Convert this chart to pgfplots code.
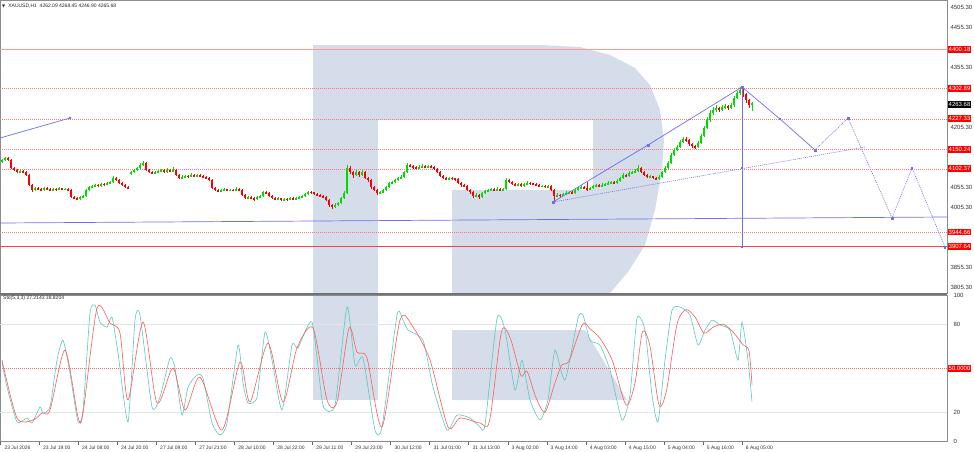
\documentclass[border=0pt]{standalone}
\usepackage{fontspec}
\setmainfont{Liberation Sans}
\newfontfamily\dejavu{DejaVu Sans}
\usepackage{pgfplots}
\pgfplotsset{compat=1.18}
\usepackage{pgfplotstable}
\definecolor{upc}{RGB}{0,220,0}
\definecolor{dnc}{RGB}{255,0,0}
\definecolor{bl}{RGB}{110,110,240}
\definecolor{logoc}{RGB}{212,221,233}
\definecolor{tealc}{RGB}{90,200,190}
\definecolor{sred}{RGB}{255,90,90}
\newcommand\tk{\fontsize{6}{6}\selectfont}
\newcommand\tks{\fontsize{5}{5}\selectfont}
\tikzset{lvl/.style={fill=red, text=white, font=\tk, inner xsep=1pt, inner ysep=1.3pt, anchor=west, xshift=0.5pt}}

\pgfplotstableread{
k o h l c
0 4120 4128 4117 4124.5
1 4124.5 4132 4122 4129.5
2 4129.5 4131 4121 4124.5
3 4124.5 4126 4101 4104.5
4 4104.5 4107 4096 4099.5
5 4099.5 4102 4091 4094.5
6 4094.5 4100 4092 4097
7 4097 4099 4091 4094.5
8 4094.5 4096 4084 4087
9 4087 4089 4059 4062
10 4062 4064 4045 4049.5
11 4049.5 4058 4047 4054.5
12 4054.5 4057 4049 4052
13 4052 4055 4046 4049.5
14 4049.5 4057 4047 4054.5
15 4054.5 4056 4049 4052
16 4052 4054 4046 4049.5
17 4049.5 4055 4047 4052
18 4052 4054 4048 4051
19 4051 4056 4049 4053
20 4053 4055 4049 4051.5
21 4051.5 4054 4049 4052
22 4052 4054 4046 4049.5
23 4049.5 4051 4029 4032
24 4032 4035 4026 4029.5
25 4029.5 4032 4024 4027
26 4027 4035 4025 4032
27 4032 4038 4030 4034.5
28 4034.5 4052 4032 4049.5
29 4049.5 4060 4047 4057
30 4057 4063 4055 4059.5
31 4059.5 4065 4057 4062
32 4062 4064 4057 4060
33 4060 4067 4058 4064.5
34 4064.5 4066 4060 4063
35 4063 4070 4061 4067
36 4067 4073 4065 4069.5
37 4069.5 4084 4067 4079.5
38 4079.5 4082 4072 4074.5
39 4074.5 4076 4064 4067
40 4067 4069 4059 4062
41 4062 4064 4054 4057
42 4057 4059 4052 4054.5
43 4090 4098 4088 4094.5
44 4094.5 4103 4092 4099.5
45 4099.5 4108 4097 4104.5
46 4104.5 4116 4102 4112
47 4112 4122 4109 4117
48 4117 4119 4096 4099.5
49 4099.5 4102 4091 4094.5
50 4094.5 4097 4089 4092
51 4092 4098 4090 4094.5
52 4094.5 4100 4092 4097
53 4097 4103 4095 4099.5
54 4099.5 4101 4092 4094.5
55 4094.5 4104 4092 4099.5
56 4099.5 4102 4094 4097
57 4097 4106 4095 4099.5
58 4099.5 4101 4084 4087
59 4087 4089 4076 4079.5
60 4079.5 4086 4077 4082
61 4082 4088 4080 4084.5
62 4084.5 4087 4080 4083
63 4083 4092 4081 4087
64 4087 4089 4082 4084.5
65 4084.5 4090 4082 4087
66 4087 4089 4081 4084.5
67 4084.5 4086 4079 4082
68 4082 4084 4077 4079.5
69 4079.5 4082 4071 4074.5
70 4074.5 4076 4051 4054.5
71 4054.5 4057 4046 4049.5
72 4049.5 4052 4044 4047
73 4047 4053 4045 4049.5
74 4049.5 4054 4047 4051
75 4051 4053 4046 4049
76 4049 4053 4047 4050
77 4050 4052 4047 4049.5
78 4049.5 4056 4048 4052
79 4052 4054 4046 4049.5
80 4049.5 4051 4034 4037
81 4037 4039 4026 4029.5
82 4029.5 4035 4027 4032
83 4032 4034 4026 4029.5
84 4029.5 4031 4022 4027
85 4027 4035 4025 4032
86 4032 4038 4030 4034.5
87 4034.5 4048 4032 4044.5
88 4044.5 4047 4039 4042
89 4042 4044 4031 4034.5
90 4034.5 4037 4026 4029.5
91 4029.5 4032 4024 4027
92 4027 4031 4024 4028
93 4028 4030 4021 4024.5
94 4024.5 4030 4022 4027
95 4027 4029 4023 4026
96 4026 4033 4024 4029.5
97 4029.5 4031 4024 4027
98 4027 4032 4025 4029.5
99 4029.5 4035 4027 4032
100 4032 4038 4030 4034.5
101 4034.5 4043 4032 4039.5
102 4039.5 4048 4037 4044.5
103 4044.5 4047 4040 4043
104 4043 4045 4037 4039.5
105 4039.5 4041 4034 4037
106 4037 4039 4032 4034.5
107 4034.5 4036 4029 4032
108 4032 4034 4021 4024.5
109 4024.5 4026 4008 4012
110 4012 4014 4003 4007
111 4007 4016 4004 4012
112 4012 4020 4009 4017
113 4017 4033 4015 4029.5
114 4029.5 4046 4027 4042
115 4042 4112 4039 4104.5
116 4104.5 4110 4090 4094.5
117 4094.5 4097 4080 4087
118 4087 4100 4084 4094.5
119 4094.5 4097 4083 4087
120 4087 4099 4085 4094.5
121 4094.5 4096 4076 4079.5
122 4079.5 4082 4070 4074.5
123 4074.5 4077 4053 4057
124 4057 4060 4046 4049.5
125 4049.5 4052 4038 4042
126 4042 4047 4039 4043
127 4043 4053 4041 4049.5
128 4049.5 4060 4047 4057
129 4057 4070 4055 4067
130 4067 4073 4064 4069.5
131 4069.5 4078 4067 4074.5
132 4074.5 4083 4072 4079.5
133 4079.5 4086 4077 4082
134 4082 4098 4080 4094.5
135 4094.5 4117 4092 4112
136 4112 4115 4106 4109.5
137 4109.5 4112 4103 4107
138 4107 4109 4101 4104.5
139 4104.5 4111 4102 4107
140 4107 4114 4105 4109.5
141 4109.5 4112 4104 4107
142 4107 4113 4105 4109.5
143 4109.5 4111 4104 4107
144 4107 4109 4099 4102
145 4102 4104 4091 4094.5
146 4094.5 4096 4081 4084.5
147 4084.5 4087 4076 4079.5
148 4079.5 4082 4074 4077
149 4077 4083 4075 4079.5
150 4079.5 4082 4075 4078
151 4078 4080 4073 4077
152 4077 4079 4064 4067
153 4067 4069 4058 4062
154 4062 4064 4056 4059.5
155 4059.5 4061 4046 4049.5
156 4049.5 4052 4040 4044.5
157 4044.5 4046 4029 4034.5
158 4034.5 4041 4031 4037
159 4037 4039 4027 4032
160 4032 4045 4030 4042
161 4042 4050 4040 4047
162 4047 4053 4045 4049.5
163 4049.5 4055 4047 4052
164 4052 4054 4046 4049.5
165 4049.5 4056 4047 4052
166 4052 4054 4046 4049.5
167 4049.5 4055 4047 4052
168 4052 4079 4050 4074.5
169 4074.5 4077 4066 4069.5
170 4069.5 4072 4061 4064.5
171 4064.5 4067 4059 4062
172 4062 4068 4060 4064.5
173 4064.5 4066 4056 4059.5
174 4059.5 4068 4057 4064.5
175 4064.5 4071 4062 4067
176 4067 4070 4063 4066
177 4066 4068 4061 4064.5
178 4064.5 4066 4059 4062
179 4062 4064 4056 4059.5
180 4059.5 4063 4057 4060
181 4060 4062 4054 4057
182 4057 4063 4055 4059.5
183 4059.5 4061 4046 4049.5
184 4049.5 4051 4019.5 4034.5
185 4034.5 4041 4031 4037
186 4037 4040 4033 4036
187 4036 4043 4034 4039.5
188 4039.5 4046 4037 4042
189 4042 4048 4040 4044.5
190 4044.5 4047 4039 4042
191 4042 4053 4040 4049.5
192 4049.5 4058 4047 4054.5
193 4054.5 4061 4052 4057
194 4057 4059 4051 4054.5
195 4054.5 4069.5 4048 4051
196 4051 4058 4049 4054.5
197 4054.5 4063 4052 4059.5
198 4059.5 4065 4057 4062
199 4062 4064 4056 4059.5
200 4059.5 4066 4057 4062
201 4062 4068 4060 4064.5
202 4064.5 4071 4062 4067
203 4067 4073 4065 4069.5
204 4069.5 4072 4064 4067
205 4067 4076 4065 4072
206 4072 4083 4070 4079.5
207 4079.5 4091 4077 4087
208 4087 4089 4081 4084.5
209 4084.5 4096 4082 4092
210 4092 4098 4090 4094.5
211 4094.5 4101 4092 4097
212 4097 4112 4095 4104.5
213 4104.5 4106 4091 4094.5
214 4094.5 4097 4084 4087
215 4087 4089 4079 4082
216 4082 4086 4079 4083
217 4083 4085 4076 4079.5
218 4079.5 4082 4074 4077
219 4077 4086 4075 4082
220 4082 4098 4080 4094.5
221 4094.5 4109 4092 4104.5
222 4104.5 4122 4102 4117
223 4117 4142 4114 4137
224 4137 4155 4134 4149.5
225 4149.5 4162 4146 4157
226 4157 4175 4154 4169.5
227 4169.5 4183 4166 4177
228 4177 4181 4170 4174.5
229 4174.5 4177 4160 4164.5
230 4164.5 4167 4155 4159.5
231 4159.5 4162 4152 4157
232 4157 4171 4154 4167
233 4167 4189 4164 4184.5
234 4184.5 4210 4181 4204.5
235 4204.5 4231 4201 4224.5
236 4224.5 4250 4220 4242
237 4242 4257 4238 4249.5
238 4249.5 4261 4245 4254.5
239 4254.5 4258 4244 4249.5
240 4249.5 4263 4246 4257
241 4257 4265 4253 4259.5
242 4259.5 4262 4249 4254.5
243 4254.5 4268 4251 4262
244 4262 4285 4258 4279.5
245 4279.5 4298 4276 4292
246 4292 4307 4288 4299.5
247 4299.5 4302 4283 4289.5
248 4289.5 4292 4268 4275
249 4275 4278 4255 4262
250 4262.09 4268.45 4246.90 4265.68
}\candles

\begin{document}
\begin{tikzpicture}
\path[use as bounding box] (0,0) rectangle (974pt,451pt);

% watermark logo (pixel coordinates, y downward)
\begin{axis}[at={(0pt,0pt)}, anchor=south west, width=974pt, height=451pt,
  scale only axis, xmin=0, xmax=974, ymin=0, ymax=451, y dir=reverse,
  hide axis, clip=false]
\addplot[fill=logoc, draw=none] coordinates {(313,45) (378,45) (378,400) (313,400)} -- cycle;
\addplot[fill=logoc, draw=none] coordinates {(378,45) (540,45) (580,47) (610,55) (635,68) (650,85) (660,110) (664,140) (662,170) (655,210) (645,245) (628,272) (610,293) (452,293) (452,190) (593,190) (593,120) (378,120)} -- cycle;
\addplot[fill=logoc, draw=none] coordinates {(452,330) (585,330) (627,400) (452,400)} -- cycle;
\end{axis}

% main price panel
\begin{axis}[at={(0pt,158pt)}, anchor=south west, width=947pt, height=293pt,
  scale only axis, xmin=-0.667, xmax=315, ymin=3792, ymax=4524.5,
  clip=false, axis line style={draw=black!45},
  xtick=\empty,
  ytick={3805.3,3855.3,4005.3,4055.3,4205.3,4355.3,4455.3,4505.3},
  yticklabels={3805.30,3855.30,4005.30,4055.30,4205.30,4355.30,4455.30,4505.30},
  yticklabel pos=right, ytick style={draw=none},
  yticklabel style={font=\tk, text=black!80}]

% levels
\addplot[red!40, line width=1pt] coordinates {(-0.667,4400.18) (315,4400.18)};
\addplot[red!55, dash pattern=on 1pt off 1pt, line width=0.5pt] coordinates {(-0.667,4302.89) (315,4302.89)};
\addplot[red!55, dash pattern=on 1pt off 1pt, line width=0.5pt] coordinates {(-0.667,4227.33) (315,4227.33)};
\addplot[red!55, dash pattern=on 1pt off 1pt, line width=0.5pt] coordinates {(-0.667,4150.24) (315,4150.24)};
\addplot[red!55, dash pattern=on 1pt off 1pt, line width=0.5pt] coordinates {(-0.667,4102.37) (315,4102.37)};
\addplot[red!55, dash pattern=on 1pt off 1pt, line width=0.5pt] coordinates {(-0.667,3944.66) (315,3944.66)};
\addplot[red!75, line width=0.8pt] coordinates {(-0.667,3907.64) (315,3907.64)};

% candles: wicks and bodies
\addplot[draw=none, restrict expr to domain={\thisrow{c}-\thisrow{o}}{0:10000},
  error bars/.cd, y dir=both, y explicit, error mark=none,
  error bar style={draw=upc, line width=0.6pt}]
  table[x=k, y expr={(\thisrow{h}+\thisrow{l})/2}, y error expr={(\thisrow{h}-\thisrow{l})/2}] {\candles};
\addplot[draw=none, restrict expr to domain={\thisrow{c}-\thisrow{o}}{0:10000},
  error bars/.cd, y dir=both, y explicit, error mark=none,
  error bar style={draw=upc, line width=2.2pt}]
  table[x=k, y expr={(\thisrow{o}+\thisrow{c})/2}, y error expr={(\thisrow{c}-\thisrow{o})/2+0.4}] {\candles};
\addplot[draw=none, restrict expr to domain={\thisrow{o}-\thisrow{c}}{0.001:10000},
  error bars/.cd, y dir=both, y explicit, error mark=none,
  error bar style={draw=dnc, line width=0.6pt}]
  table[x=k, y expr={(\thisrow{h}+\thisrow{l})/2}, y error expr={(\thisrow{h}-\thisrow{l})/2}] {\candles};
\addplot[draw=none, restrict expr to domain={\thisrow{o}-\thisrow{c}}{0.001:10000},
  error bars/.cd, y dir=both, y explicit, error mark=none,
  error bar style={draw=dnc, line width=2.2pt}]
  table[x=k, y expr={(\thisrow{o}+\thisrow{c})/2}, y error expr={(\thisrow{o}-\thisrow{c})/2+0.4}] {\candles};

% trend lines and forecast
\addplot[bl, line width=0.7pt, mark=*, mark size=0.9pt, mark indices={2}] coordinates {(-0.667,4179.5) (22.67,4229.5)};
\addplot[bl, line width=0.7pt] coordinates {(-0.667,3967) (315,3982)};
\addplot[bl, line width=0.7pt, mark=square*, mark size=0.9pt] coordinates {(183.67,4019.5) (215.33,4162) (246.67,4307)};
\addplot[bl, line width=0.6pt, dash pattern=on 1pt off 1pt] coordinates {(183.67,4019.5) (287.67,4157)};
\addplot[bl, line width=0.9pt, mark=square*, mark size=0.9pt] coordinates {(246.67,4307) (246.67,4104.5) (246.67,3907)};
\addplot[bl, line width=0.7pt, mark=square*, mark size=0.8pt] coordinates {(246.67,4307) (259.33,4227) (271,4149.5)};
\addplot[bl, line width=0.6pt, dash pattern=on 1pt off 1pt, mark=square*, mark size=0.8pt, mark options={solid}] coordinates {(271,4149.5) (282,4229.5) (296.67,3979.5) (303.33,4104.5) (314.33,3907)};

% right-side labels
\node[lvl] at (axis cs:315,4400.18) {4400.18};
\node[lvl] at (axis cs:315,4302.89) {4302.89};
\node[lvl, fill=black] at (axis cs:315,4263.68) {4263.68};
\node[lvl] at (axis cs:315,4227.33) {4227.33};
\node[lvl] at (axis cs:315,4150.24) {4150.24};
\node[lvl] at (axis cs:315,4102.37) {4102.37};
\node[lvl] at (axis cs:315,3944.66) {3944.66};
\node[lvl] at (axis cs:315,3907.64) {3907.64};
\end{axis}

% stochastic panel
\begin{axis}[at={(0pt,9.4pt)}, anchor=south west, width=947pt, height=146.6pt,
  scale only axis, xmin=-0.667, xmax=315, ymin=0, ymax=100,
  clip=false, axis line style={draw=black!45},
  ytick={0,20,80,100}, yticklabels={0,20,80,100},
  yticklabel pos=right, ytick style={draw=none},
  yticklabel style={font=\tk, text=black!80},
  xtick={-0.5,12.35,25.37,38.38,51.4,64.42,77.43,90.45,103.47,116.48,129.5,142.52,155.53,168.55,181.57,194.58,207.6,220.62,233.63,246.65},
  xticklabels={{23 Jul 2026},{23 Jul 19:00},{24 Jul 08:00},{24 Jul 20:00},{27 Jul 09:00},{27 Jul 21:00},{28 Jul 10:00},{28 Jul 22:00},{29 Jul 11:00},{29 Jul 23:00},{30 Jul 12:00},{31 Jul 01:00},{31 Jul 13:00},{3 Aug 02:00},{3 Aug 14:00},{4 Aug 03:00},{4 Aug 15:00},{5 Aug 04:00},{5 Aug 16:00},{6 Aug 05:00}},
  xtick pos=bottom, tick align=outside, major tick length=3pt,
  xtick style={draw=black!60},
  xticklabel style={font=\tks, text=black!80, anchor=north west, xshift=0.5pt, yshift=2pt}]

\addplot[black!10, line width=0.5pt] coordinates {(-0.667,80) (315,80)};
\addplot[black!10, line width=0.5pt] coordinates {(-0.667,20) (315,20)};
\addplot[red!60, dash pattern=on 1pt off 1pt, line width=0.5pt] coordinates {(-0.667,50) (315,50)};

\addplot[tealc, line width=0.6pt, smooth, tension=0.35] coordinates {
(0,54.3) (1.67,37.2) (5,13.4) (8.33,16.1) (10,12.7) (12.67,23.6) (13.67,19.5) (16,23.6)
(18.33,55.6) (20.33,69.2) (22.67,46.7) (25.33,13.4) (27,21.5) (29.33,87.7) (31,93.1)
(32.67,81.5) (35,78.1) (36.67,84.9) (38.67,60.4) (42,13.4) (44.33,82.9) (46,86.3)
(50,23.6) (52.67,30.4) (56,57) (57.67,50.2) (60,18.1) (62,37.2) (65,45.4) (67,43.4)
(70,12.7) (72.67,4.5) (75,12.7) (78.67,65.8) (80.33,39.9) (82,26.3) (85,30.4)
(87.67,74.7) (90,55.6) (93.33,21.5) (96.67,65.8) (98.67,63.8) (103.33,81.5) (107,24.9)
(111,24.9) (115,91.8) (117.67,52.2) (120.33,57) (124.33,7.9) (126.67,10) (131.67,86.3)
(133.67,82.9) (135.33,76.1) (140.33,69.2) (143.67,37.2) (148.33,7.9) (151.67,18.1)
(156,16.1) (159.33,10) (161,11.3) (165,84.2) (167.67,76.1) (171,35.2) (173.33,55.6)
(176,28.4) (179.33,14.7) (182,28.4) (184.33,62.4) (187.67,42) (192,84.2) (193.67,86.3)
(196,69.2) (199.33,65.8) (202.67,48.8) (206.67,14.7) (209.33,31.8) (211.67,84.2)
(214.33,76.1) (216.67,31.8) (218.67,13.4) (221,55.6) (223.33,89.7) (226,91.8)
(229.33,86.3) (232,65.8) (234.33,76.1) (236.67,82.9) (239.33,79.5) (242.67,76.1)
(245.33,55.6) (246.67,81.5) (248.67,55.6) (250,27.2)};

\addplot[sred, line width=0.6pt, smooth, tension=0.45] coordinates {
(0,55.6) (5,16.1) (10.33,14.7) (13.33,19.5) (16,21.5) (21,62.4) (25.33,16.8) (27,19.5)
(31.67,90.9) (36,80.8) (39.33,74) (42,28.4) (47,81.5) (51.67,26.3) (57,50.2) (61,21.5)
(66,44) (73.33,7.9) (79.33,54.3) (82.67,27) (88.67,67.2) (93.67,27) (98.33,63.8)
(103.67,77.4) (108.33,28.4) (111.67,27) (115.67,77.4) (118.33,61) (121.67,57)
(126.67,10) (132.67,82.9) (137,78.1) (142.67,55.6) (148.67,10) (152.67,16.1)
(159.33,12.7) (162.5,14) (166.5,75) (169.5,70) (173,45) (175,48) (178,30) (181,20)
(184,38) (186.5,52) (189,55) (193.5,80) (196,77) (199.5,70) (203.5,55) (208,25)
(211,40) (213.5,75) (216,65) (219,25) (221.5,35) (225,80) (228,90) (231,85) (234,74)
(237,78) (240.5,80) (244,74) (247,66) (249,62) (250,38.8)};

\node[lvl] at (axis cs:315,50) {50.0000};
\end{axis}

% panel separator
\draw[line width=2.5pt, black!55] (0,157pt) -- (947pt,157pt);

% captions
\node[anchor=west, inner sep=0pt, text=black!85] at (2pt,445pt) {{\dejavu\fontsize{4}{4}\selectfont ▼}\,\tks\ XAUUSD,H1\ \ 4262.09 4268.45 4246.90 4265.68};
\node[anchor=west, inner sep=0pt, text=black!85] at (3pt,153pt) {\tks Sto(5,3,3) 27.2143 38.8204};
\end{tikzpicture}
\end{document}
